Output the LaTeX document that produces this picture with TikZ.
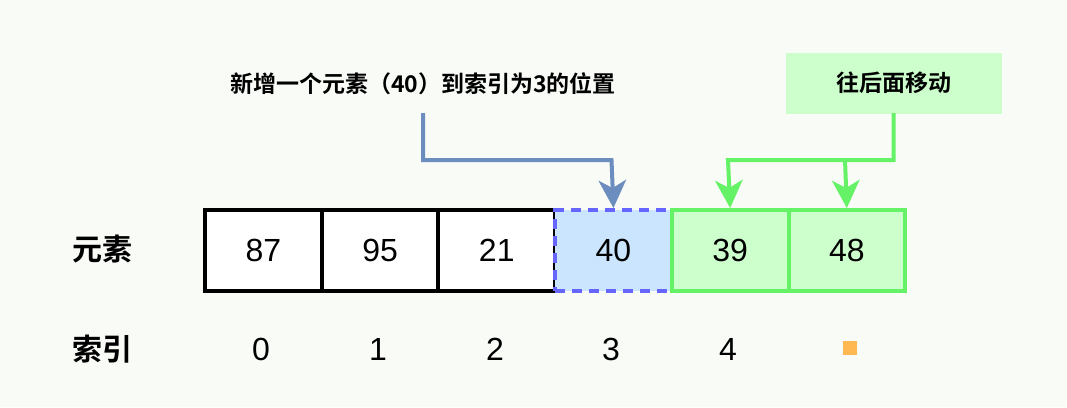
\documentclass[tikz,border=0pt]{standalone}
\usepackage{fontspec}
\setmainfont{Liberation Sans}
\newfontfamily\cjk{Noto Sans CJK SC}[BoldFont={Noto Sans CJK SC Bold}]
\usetikzlibrary{arrows.meta}
\definecolor{bg}{HTML}{F9FBF6}
\definecolor{gline}{HTML}{66F266}
\definecolor{gfill}{HTML}{CCFFCC}
\definecolor{bline}{HTML}{6C8EBF}
\definecolor{dline}{HTML}{6666FF}
\definecolor{dfill}{HTML}{CCE5FF}
\definecolor{org}{HTML}{FFB852}
\begin{document}
\begin{tikzpicture}[x=1pt,y=-1pt,
  cell/.style={draw=black,line width=4pt,fill=white,minimum width=116.7pt,minimum height=81pt,inner sep=0pt,font=\fontsize{32}{32}\selectfont,anchor=north west},
  gcell/.style={cell,draw=gline,fill=gfill},
  idx/.style={font=\fontsize{32}{32}\selectfont},
  lab/.style={font=\cjk\bfseries\fontsize{30}{30}\selectfont},
  arr/.style={line width=4pt,-{Stealth[length=28pt,width=28pt,inset=8pt,line width=0pt]}}]
\fill[bg] (0,0) rectangle (1067,407);
\node[cell] (c0) at (203,208) {87};
\node[cell] (c1) at (319.7,208) {95};
\node[cell] (c2) at (436.4,208) {21};
\node[cell,draw=dline,fill=dfill,dashed,dash pattern=on 10pt off 7pt] (c3) at (553.1,208) {40};
\node[gcell] (c4) at (669.8,208) {39};
\node[gcell] (c5) at (786.5,208) {48};
\node[lab] (l1) at (102,249) {元素};
\node[lab] (l2) at (102,349) {索引};
\foreach \i/\x in {0/261,1/378,2/495,3/611,4/728}{\node[idx] (i\i) at (\x,349) {\i};}
\node[fill=org,minimum size=14pt,inner sep=0pt] (i5) at (850,348) {};
\node[font=\cjk\bfseries\fontsize{23}{23}\selectfont] (t1) at (423,84) {新增一个元素（40）到索引为3的位置};
\node[draw=gfill,fill=gfill,minimum width=215pt,minimum height=60pt,font=\cjk\bfseries\fontsize{23}{23}\selectfont] (t2) at (893.5,83) {往后面移动};
\coordinate (a1) at (423,113);
\draw[arr,bline] (a1) |- (611.5,160) -- (c3.north);
\draw[arr,gline] (t2.south) |- (728,160) -- (c4.north);
\draw[arr,gline] (845,160) -- (c5.north);
\end{tikzpicture}
\end{document}
